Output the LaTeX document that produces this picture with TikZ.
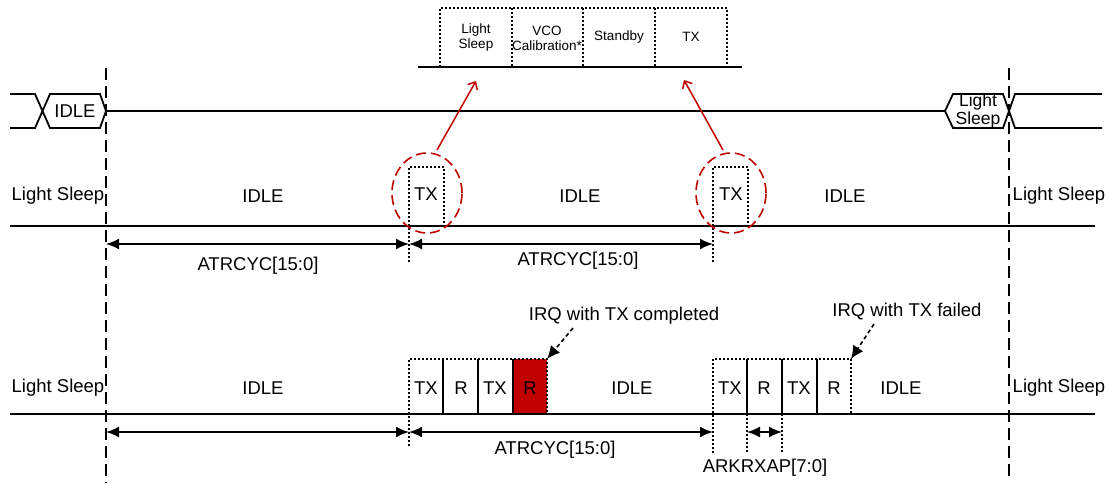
\documentclass[tikz,border=0pt]{standalone}
\usepackage{fontspec}
\setmainfont{Liberation Sans}
\usetikzlibrary{arrows.meta}
\definecolor{dred}{HTML}{C00000}
\begin{document}
\begin{tikzpicture}[x=1pt,y=-1pt,
  sline/.style={line width=1.8pt},
  dotline/.style={line width=1.5pt, dash pattern=on 2pt off 2pt},
  longdash/.style={line width=1.5pt, dash pattern=on 12pt off 6pt},
  dimarrow/.style={line width=1.8pt, {Latex[length=13pt,width=11pt]}-{Latex[length=13pt,width=11pt]}},
  irqarrow/.style={line width=1.6pt, dash pattern=on 4pt off 3pt, -{Latex[length=13pt,width=12pt]}},
  redarrow/.style={line width=1.5pt, dred, -{Straight Barb[length=6pt,width=11pt]}},
  redcirc/.style={line width=1.6pt, dred, dash pattern=on 10pt off 5pt},
  lbl/.style={inner sep=0pt, font=\fontsize{18.5}{18}\selectfont},
  small/.style={inner sep=0pt, align=center, font=\fontsize{13.5}{15}\selectfont},
]
\useasboundingbox (0,0) rectangle (1109,483);

% ---------- top expansion row ----------
\draw[sline] (418,67) -- (742,67);
\draw[dotline] (440,67) -- (440,8) -- (727,8) -- (727,67);
\foreach \x in {512,583,655} \draw[dotline] (\x,8) -- (\x,67);
\node[small] (tls) at (476,38) {Light\\Sleep};
\node[small] (tvco) at (547,38) {VCO\\Calibration*};
\node[small] (tsb) at (619,37) {Standby};
\node[small] (ttx) at (691,37) {TX};

% ---------- vertical dashed boundaries ----------
\coordinate (vl1) at (106,68);
\coordinate (vl2) at (106,483);
\coordinate (vr1) at (1009,68);
\coordinate (vr2) at (1009,480);
\draw[longdash] (vl1) -- (vl2);
\draw[longdash] (vr1) -- (vr2);

% ---------- bus row ----------
\draw[sline] (10,94) -- (35,94) -- (50,128) -- (100,128) -- (106,111) -- (100,94) -- (50,94) -- (35,128) -- (10,128);
\node[lbl] (bidle) at (75,111) {IDLE};
\draw[sline] (106,111) -- (945,111) -- (953,94) -- (1003,94) -- (1015,128) -- (1102,128);
\draw[sline] (945,111) -- (953,128) -- (1003,128) -- (1015,94) -- (1102,94);
\node[lbl, align=center, font=\fontsize{17.5}{15}\selectfont] (bls) at (978,111) {Light\\Sleep};

% ---------- row 2 ----------
\draw[sline] (10,226) -- (1095,226);
\node[lbl] (r2ls) at (58,196) {Light Sleep};
\node[lbl] (r2i1) at (263,196) {IDLE};
\node[lbl] (r2i2) at (580,196) {IDLE};
\node[lbl] (r2i3) at (845,196) {IDLE};
\node[lbl] (r2ls2) at (1059,196) {Light Sleep};
\draw[dotline] (409,262) -- (409,167) -- (444,167) -- (444,226);
\draw[dotline] (713,262) -- (713,167) -- (748,167) -- (748,226);
\node[lbl] (r2tx1) at (426,194) {TX};
\node[lbl] (r2tx2) at (731,194) {TX};
\draw[redcirc] (427,193) ellipse [x radius=35pt, y radius=40pt];
\draw[redcirc] (731,193) ellipse [x radius=35pt, y radius=40pt];
\coordinate (c1top) at (437,150);
\coordinate (c2top) at (723,150);
\coordinate (e1) at (476,81);
\coordinate (e2) at (684,80);
\draw[redarrow] (c1top) -- (e1);
\draw[redarrow] (c2top) -- (e2);
\coordinate (d2a) at (106,244);
\coordinate (d2b) at (409,244);
\coordinate (d2c) at (713,244);
\draw[dimarrow] (d2a) -- (d2b);
\draw[dimarrow] (d2b) -- (d2c);
\node[lbl] (r2a1) at (258,266) {ATRCYC[15:0]};
\node[lbl] (r2a2) at (578,261) {ATRCYC[15:0]};

% ---------- row 3 ----------
\fill[dred] (513,359) rectangle (547,414);
\draw[sline] (10,414) -- (1095,414);
\draw[dotline] (409,446) -- (409,359) -- (547,359) -- (547,414);
\foreach \x in {443,478,513} \draw[line width=1.6pt] (\x,359) -- (\x,414);
\draw[dotline] (713,453) -- (713,359) -- (851,359) -- (851,414);
\draw[line width=1.6pt] (747,359) -- (747,414);
\draw[line width=1.6pt] (782,359) -- (782,414);
\draw[line width=1.6pt] (817,359) -- (817,414);
\draw[dotline] (747,414) -- (747,453);
\draw[dotline] (782,414) -- (782,453);
\node[lbl] (r3tx1) at (426,388) {TX};
\node[lbl] (r3r1) at (461,388) {R};
\node[lbl] (r3tx2) at (495,388) {TX};
\node[lbl] (r3r2) at (530,388) {R};
\node[lbl] (r3tx3) at (730,388) {TX};
\node[lbl] (r3r3) at (764,388) {R};
\node[lbl] (r3tx4) at (799,388) {TX};
\node[lbl] (r3r4) at (834,388) {R};
\node[lbl] (r3ls) at (58,388) {Light Sleep};
\node[lbl] (r3i1) at (263,388) {IDLE};
\node[lbl] (r3i2) at (632,388) {IDLE};
\node[lbl] (r3i3) at (901,388) {IDLE};
\node[lbl] (r3ls2) at (1059,388) {Light Sleep};
\node[lbl] (irq1) at (624,316) {IRQ with TX completed};
\node[lbl] (irq2) at (907,312) {IRQ with TX failed};
\coordinate (g1c) at (547,359);
\coordinate (g2c) at (851,359);
\draw[irqarrow] (573,328) -- (g1c);
\draw[irqarrow] (874,324) -- (g2c);
\coordinate (d3a) at (106,432);
\coordinate (d3b) at (409,432);
\coordinate (d3c) at (713,432);
\coordinate (d3d) at (747,432);
\coordinate (d3e) at (782,432);
\draw[dimarrow] (d3a) -- (d3b);
\draw[dimarrow] (d3b) -- (d3c);
\draw[dimarrow] (d3d) -- (d3e);
\node[lbl] (r3a1) at (555,450) {ATRCYC[15:0]};
\node[lbl] (r3a2) at (765,468) {ARKRXAP[7:0]};
\end{tikzpicture}
\end{document}
